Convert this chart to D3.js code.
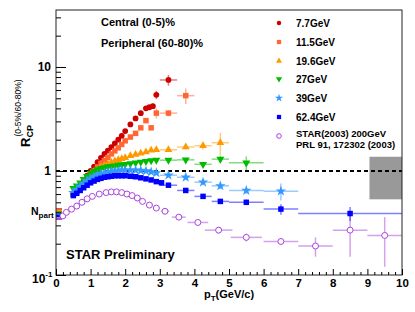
<!DOCTYPE html>
<html>
<head>
<meta charset="utf-8">
<script src="https://cdn.jsdelivr.net/npm/d3@7"></script>
<style>
  body { margin: 0; background: #fff; }
  text { font-family: "Liberation Sans", Arial, sans-serif; font-weight: bold; }
</style>
</head>
<body>
<div id="chart"></div>
<script>
// data: each point is [pT, Rcp, x error, y error]
var gev7p7 = [[0.5,0.6,0.05,0.01],[0.6,0.65,0.05,0.01],[0.7,0.72,0.05,0.01],[0.8,0.8,0.05,0.01],[0.9,0.9,0.05,0.01],
  [1.0,1.0,0.05,0.02],[1.1,1.1,0.05,0.02],[1.2,1.22,0.05,0.02],[1.3,1.34,0.05,0.03],[1.4,1.46,0.05,0.03],
  [1.5,1.57,0.05,0.03],[1.6,1.7,0.05,0.04],[1.7,1.84,0.05,0.04],[1.8,2.0,0.05,0.05],[1.9,2.18,0.05,0.05],
  [2.0,2.42,0.05,0.06],[2.15,2.8,0.07,0.08],[2.3,3.2,0.07,0.1],[2.45,3.6,0.07,0.12],[2.6,4.0,0.07,0.15],
  [2.7,4.1,0.05,0.2],[2.8,4.2,0.05,0.25],[2.9,5.4,0.08,0.5],[3.25,7.5,0.25,0.9]];
var gev11p5 = [[0.5,0.6,0.05,0.01],[0.6,0.64,0.05,0.01],[0.7,0.69,0.05,0.01],[0.8,0.76,0.05,0.01],[0.9,0.84,0.05,0.01],
  [1.0,0.92,0.05,0.01],[1.1,1.0,0.05,0.02],[1.2,1.09,0.05,0.02],[1.3,1.18,0.05,0.02],[1.4,1.26,0.05,0.02],
  [1.5,1.35,0.05,0.03],[1.6,1.46,0.05,0.03],[1.7,1.56,0.05,0.03],[1.8,1.67,0.05,0.04],[1.9,1.8,0.05,0.04],
  [2.0,1.95,0.05,0.05],[2.15,2.12,0.07,0.05],[2.3,2.3,0.07,0.06],[2.45,2.6,0.07,0.08],[2.6,3.05,0.07,0.1],
  [2.75,2.6,0.07,0.12],[2.9,3.6,0.08,0.4],[3.25,3.6,0.25,0.25],[3.75,5.3,0.25,0.9]];
var gev19p6 = [[0.5,0.63,0.05,0.01],[0.6,0.68,0.05,0.01],[0.7,0.73,0.05,0.01],[0.8,0.79,0.05,0.01],[0.9,0.86,0.05,0.01],
  [1.0,0.93,0.05,0.01],[1.1,0.99,0.05,0.01],[1.2,1.04,0.05,0.01],[1.3,1.09,0.05,0.01],[1.4,1.13,0.05,0.01],
  [1.5,1.17,0.05,0.01],[1.6,1.21,0.05,0.01],[1.7,1.25,0.05,0.02],[1.8,1.28,0.05,0.02],[1.9,1.31,0.05,0.02],
  [2.0,1.34,0.05,0.02],[2.15,1.4,0.07,0.02],[2.3,1.44,0.07,0.03],[2.45,1.48,0.07,0.03],[2.6,1.52,0.07,0.03],
  [2.75,1.58,0.07,0.04],[2.9,1.6,0.07,0.04],[3.25,1.6,0.25,0.05],[3.75,1.7,0.25,0.08],[4.25,1.75,0.25,0.15],
  [4.75,1.87,0.25,0.45]];
var gev27 = [[0.5,0.68,0.05,0.01],[0.6,0.72,0.05,0.01],[0.7,0.77,0.05,0.01],[0.8,0.83,0.05,0.01],[0.9,0.89,0.05,0.01],
  [1.0,0.95,0.05,0.01],[1.1,0.99,0.05,0.01],[1.2,1.03,0.05,0.01],[1.3,1.06,0.05,0.01],[1.4,1.08,0.05,0.01],
  [1.5,1.1,0.05,0.01],[1.6,1.11,0.05,0.01],[1.7,1.12,0.05,0.01],[1.8,1.14,0.05,0.01],[1.9,1.15,0.05,0.01],
  [2.0,1.16,0.05,0.01],[2.15,1.18,0.07,0.01],[2.3,1.2,0.07,0.02],[2.45,1.22,0.07,0.02],[2.6,1.24,0.07,0.02],
  [2.75,1.26,0.07,0.02],[2.9,1.27,0.07,0.03],[3.25,1.27,0.25,0.04],[3.75,1.28,0.25,0.06],[4.25,1.16,0.25,0.06],
  [4.75,1.3,0.25,0.1],[5.5,1.2,0.5,0.18]];
var gev39 = [[0.5,0.62,0.05,0.01],[0.6,0.66,0.05,0.01],[0.7,0.71,0.05,0.01],[0.8,0.76,0.05,0.01],[0.9,0.8,0.05,0.01],
  [1.0,0.85,0.05,0.01],[1.1,0.88,0.05,0.01],[1.2,0.91,0.05,0.01],[1.3,0.94,0.05,0.01],[1.4,0.96,0.05,0.01],
  [1.5,0.98,0.05,0.01],[1.6,0.99,0.05,0.01],[1.7,1.0,0.05,0.01],[1.8,1.01,0.05,0.01],[1.9,1.02,0.05,0.01],
  [2.0,1.02,0.05,0.01],[2.15,1.02,0.07,0.01],[2.3,1.02,0.07,0.01],[2.45,1.01,0.07,0.01],[2.6,1.0,0.07,0.01],
  [2.75,0.98,0.07,0.02],[2.9,0.96,0.07,0.02],[3.25,0.91,0.25,0.03],[3.75,0.87,0.25,0.04],[4.25,0.78,0.25,0.05],
  [4.75,0.72,0.25,0.05],[5.5,0.65,0.5,0.05],[6.5,0.64,0.5,0.12]];
var gev62p4 = [[0.5,0.58,0.05,0.01],[0.6,0.61,0.05,0.01],[0.7,0.65,0.05,0.01],[0.8,0.69,0.05,0.01],[0.9,0.73,0.05,0.01],
  [1.0,0.77,0.05,0.01],[1.1,0.8,0.05,0.01],[1.2,0.83,0.05,0.01],[1.3,0.85,0.05,0.01],[1.4,0.87,0.05,0.01],
  [1.5,0.88,0.05,0.01],[1.6,0.89,0.05,0.01],[1.7,0.9,0.05,0.01],[1.8,0.9,0.05,0.01],[1.9,0.9,0.05,0.01],
  [2.0,0.9,0.05,0.01],[2.15,0.89,0.07,0.01],[2.3,0.88,0.07,0.01],[2.45,0.86,0.07,0.01],[2.6,0.84,0.07,0.01],
  [2.75,0.82,0.07,0.01],[2.9,0.79,0.07,0.01],[3.05,0.77,0.07,0.01],[3.25,0.73,0.25,0.02],[3.75,0.65,0.25,0.02],
  [4.25,0.57,0.25,0.03],[4.75,0.51,0.25,0.03],[5.5,0.5,0.5,0.03],[6.5,0.43,0.5,0.05],[8.5,0.39,1.5,0.06]];
var star200 = [[0.2,0.37,0.05,0.01],[0.3,0.4,0.05,0.01],[0.45,0.43,0.05,0.01],[0.6,0.46,0.05,0.01],[0.75,0.5,0.05,0.01],
  [0.9,0.54,0.05,0.01],[1.05,0.57,0.05,0.01],[1.25,0.6,0.05,0.01],[1.45,0.62,0.05,0.01],[1.6,0.63,0.05,0.01],
  [1.75,0.63,0.05,0.01],[1.9,0.62,0.05,0.01],[2.05,0.6,0.05,0.01],[2.2,0.58,0.05,0.01],[2.35,0.55,0.05,0.01],
  [2.5,0.51,0.05,0.01],[2.7,0.47,0.1,0.01],[2.9,0.44,0.1,0.01],[3.15,0.41,0.12,0.01],[3.55,0.36,0.2,0.015],
  [4.1,0.32,0.3,0.02],[4.7,0.27,0.4,0.02],[5.5,0.23,0.45,0.02],[6.5,0.21,0.5,0.015],[7.5,0.19,0.5,0.04],
  [8.5,0.27,0.5,0.12],[9.5,0.24,0.5,0.12]];

var seriesNames = ["7.7GeV", "11.5GeV", "19.6GeV", "27GeV", "39GeV", "62.4GeV"];
var nPartRatio = [0.425, 0.418, 0.41, 0.398, 0.385, 0.37, 0.348];
var normBox = {x0: 9.06, x1: 10, y0: 0.534, y1: 1.37};
var xTicks = [0, 1, 2, 3, 4, 5, 6, 7, 8, 9, 10];

var colors = ["#cc0000", "#ff6633", "#ff9900", "#00bb00", "#3399ff", "#0000ff", "#aa44dd"];
var symbols = [d3.symbolCircle, d3.symbolSquare, d3.symbolTriangle, d3.symbolTriangle, d3.symbolStar, d3.symbolSquare, d3.symbolCircle];
var sizes = [26, 30, 26, 28, 34, 30, 28];
var allData = [gev7p7, gev11p5, gev19p6, gev27, gev39, gev62p4, star200];

var svg = d3.select("#chart").append("svg")
  .attr("width", 415)
  .attr("height", 312);

var x = d3.scaleLinear().domain([0, 10]).range([56, 402]);
var y = d3.scaleLog().domain([0.1, 35.3]).range([275, 10]);

// normalisation box
svg.append("rect")
  .attr("x", x(normBox.x0)).attr("y", y(normBox.y1))
  .attr("width", x(normBox.x1) - x(normBox.x0))
  .attr("height", y(normBox.y0) - y(normBox.y1))
  .attr("fill", "#999");

// dashed line at 1
svg.append("line")
  .attr("x1", x(0)).attr("x2", x(10))
  .attr("y1", y(1)).attr("y2", y(1))
  .attr("stroke", "#000").attr("stroke-width", 2)
  .attr("stroke-dasharray", "4,3");

// Npart bands
nPartRatio.forEach(function(v, i) {
  svg.append("rect")
    .attr("x", x(0)).attr("width", 6)
    .attr("y", y(v) - 1.3).attr("height", 2.6)
    .attr("fill", colors[i]);
});

// data points, 7.7 first so it sits under the others; STAR 2003 underneath all
var order = [6, 0, 1, 2, 3, 4, 5];
order.forEach(function(i) {
  var data = allData[i];
  var g = svg.append("g");
  // error bars
  g.selectAll(".ex").data(data).enter().append("line")
    .attr("x1", d => x(d[0] - d[2])).attr("x2", d => x(d[0] + d[2]))
    .attr("y1", d => y(d[1])).attr("y2", d => y(d[1]))
    .attr("stroke", colors[i]).attr("stroke-opacity", 0.5).attr("stroke-width", 1.5);
  g.selectAll(".ey").data(data).enter().append("line")
    .attr("x1", d => x(d[0])).attr("x2", d => x(d[0]))
    .attr("y1", d => y(d[1] + d[3])).attr("y2", d => y(Math.max(d[1] - d[3], 0.101)))
    .attr("stroke", colors[i]).attr("stroke-opacity", 0.5).attr("stroke-width", 1.5);
  // markers
  g.selectAll(".m").data(data).enter().append("path")
    .attr("d", d3.symbol().type(symbols[i]).size(sizes[i]))
    .attr("transform", d => "translate(" + x(d[0]) + "," + y(d[1]) + ")" + (i == 3 ? " rotate(180)" : ""))
    .attr("fill", i == 6 ? "#fff" : colors[i])
    .attr("stroke", i == 6 ? colors[i] : "none")
    .attr("stroke-width", 1);
});

// frame
svg.append("rect")
  .attr("x", 56).attr("y", 10).attr("width", 346).attr("height", 265)
  .attr("fill", "none").attr("stroke", "#222").attr("stroke-width", 1);

// x axis
var minorX = d3.range(0, 10.01, 0.2).filter(v => Math.abs(v - Math.round(v)) > 0.01);
svg.append("g")
  .attr("transform", "translate(0,275)")
  .call(d3.axisBottom(x).tickValues(minorX).tickSize(-3).tickFormat(""))
  .call(g => g.select(".domain").remove());
var xAxis = svg.append("g")
  .attr("transform", "translate(0,275)")
  .call(d3.axisBottom(x).tickValues(xTicks).tickSize(-6).tickPadding(4).tickFormat(d3.format("d")))
  .call(g => g.select(".domain").remove());
xAxis.selectAll("text").attr("font-size", 11.5).attr("fill", "#000")
  .style("font-family", "Liberation Sans, Arial, sans-serif").style("font-weight", "bold");

// y axis
var minorY = [0.2,0.3,0.4,0.5,0.6,0.7,0.8,0.9,2,3,4,5,6,7,8,9,20,30];
svg.append("g")
  .attr("transform", "translate(56,0)")
  .call(d3.axisLeft(y).tickValues(minorY).tickSize(-5).tickFormat(""))
  .call(g => g.select(".domain").remove());
svg.append("g")
  .attr("transform", "translate(56,0)")
  .call(d3.axisLeft(y).tickValues([0.1, 1, 10]).tickSize(-10).tickFormat(""))
  .call(g => g.select(".domain").remove());

svg.append("text").attr("x", 51).attr("y", y(10) + 4.5).attr("text-anchor", "end")
  .attr("font-size", 12).text("10");
svg.append("text").attr("x", 51).attr("y", y(1) + 4.5).attr("text-anchor", "end")
  .attr("font-size", 12).text("1");
var tm = svg.append("text").attr("x", 32).attr("y", y(0.1) + 8).attr("font-size", 12);
tm.append("tspan").text("10");
tm.append("tspan").attr("font-size", 8).attr("dy", -6).text("-1");

// axis titles
var xt = svg.append("text").attr("x", 229).attr("y", 298).attr("text-anchor", "middle").attr("font-size", 11);
xt.append("tspan").text("p");
xt.append("tspan").attr("font-size", 8).attr("dy", 3).text("T");
xt.append("tspan").attr("dy", -3).text("(GeV/c)");

var yt = svg.append("g").attr("transform", "translate(30,147) rotate(-90)");
var rText = yt.append("text").attr("x", 0).attr("y", 0).attr("font-size", 13).text("R");
var rw = rText.node().getComputedTextLength();
yt.append("text").attr("x", rw).attr("y", 3).attr("font-size", 9).text("CP");
yt.append("text").attr("x", rw + 1).attr("y", -9).attr("font-size", 8.5)
  .style("font-weight", "normal").text("(0-5%/60-80%)");

var np = svg.append("text").attr("x", 31).attr("y", 215).attr("font-size", 10.5);
np.append("tspan").text("N");
np.append("tspan").attr("font-size", 8).attr("dy", 2.5).text("part");

// annotations
svg.append("text").attr("x", 101).attr("y", 26).attr("font-size", 11).text("Central (0-5)%");
svg.append("text").attr("x", 101).attr("y", 46.5).attr("font-size", 11).text("Peripheral (60-80)%");
svg.append("text").attr("x", 66).attr("y", 259).attr("font-size", 13).text("STAR Preliminary");

// legend
var legendY = [23, 42, 61, 79, 98, 117, 136];
legendY.forEach(function(ly, i) {
  svg.append("path")
    .attr("d", d3.symbol().type(symbols[i]).size(sizes[i] * 0.6))
    .attr("transform", "translate(279," + ly + ")" + (i == 3 ? " rotate(180)" : ""))
    .attr("fill", i == 6 ? "#fff" : colors[i])
    .attr("stroke", i == 6 ? colors[i] : "none");
  if (i < 6) {
    svg.append("text").attr("x", 296).attr("y", ly + 3.5).attr("font-size", 10).text(seriesNames[i]);
  }
});
svg.append("text").attr("x", 296).attr("y", 137).attr("font-size", 9.5).text("STAR(2003) 200GeV");
svg.append("text").attr("x", 296).attr("y", 148).attr("font-size", 9.5).text("PRL 91, 172302 (2003)");
</script>
</body>
</html>
